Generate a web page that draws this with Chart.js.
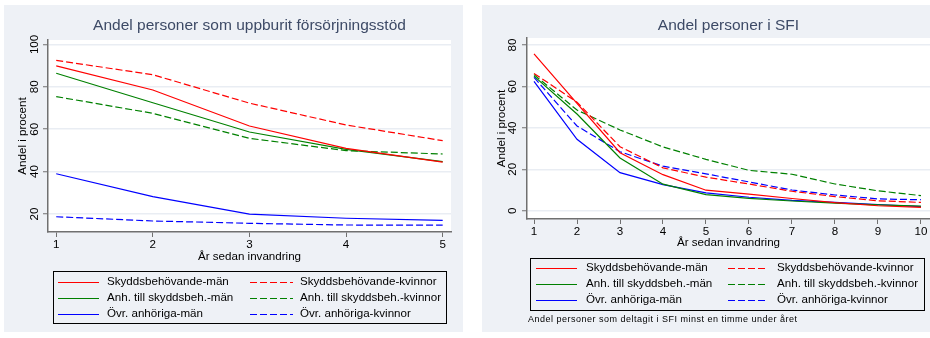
<!DOCTYPE html>
<html>
<head>
<meta charset="utf-8">
<script src="https://cdn.jsdelivr.net/npm/chart.js@4/dist/chart.umd.min.js"></script>
<style>
html,body{margin:0;padding:0;background:#fff;}
#wrap{position:relative;width:930px;height:338px;overflow:hidden;background:#fff;}
canvas{position:absolute;background:#eef1f6;}
#c1{left:4px;top:5px;}
#c2{left:482px;top:5px;}
</style>
</head>
<body>
<div id="wrap">
<canvas id="c1" width="459" height="327"></canvas>
<canvas id="c2" width="448" height="327"></canvas>
</div>
<script>
// ---------- data ----------
const fsYears = [1, 2, 3, 4, 5];
const fsSkyddMan = [89.9, 78.5, 61.5, 51.0, 44.5];
const fsSkyddKv  = [92.5, 85.7, 72.3, 62.0, 54.6];
const fsAnhMan   = [86.4, 72.5, 58.7, 50.5, 44.7];
const fsAnhKv    = [75.4, 67.5, 55.7, 49.9, 48.3];
const fsOvrMan   = [39.0, 28.2, 19.9, 18.0, 17.0];
const fsOvrKv    = [18.7, 16.7, 15.6, 14.8, 14.7];

const sfiYears = [1, 2, 3, 4, 5, 6, 7, 8, 9, 10];
const sfiSkyddMan = [75.7, 51.8, 28.0, 17.4, 9.9, 8.0, 5.9, 3.9, 2.4, 1.6];
const sfiSkyddKv  = [66.3, 52.4, 30.9, 20.7, 16.2, 12.9, 9.4, 6.8, 4.8, 4.0];
const sfiAnhMan   = [65.0, 46.7, 25.5, 12.8, 7.8, 6.0, 4.7, 3.7, 2.8, 2.2];
const sfiAnhKv    = [65.7, 48.6, 39.0, 30.8, 24.8, 19.5, 17.6, 12.9, 9.6, 7.3];
const sfiOvrMan   = [62.5, 34.5, 18.4, 12.6, 8.6, 6.5, 5.0, 4.0, 3.0, 2.0];
const sfiOvrKv    = [64.4, 40.9, 28.5, 21.5, 17.8, 13.9, 10.0, 7.6, 5.7, 5.3];

const seriesLabels = [
  'Skyddsbehövande-män', 'Skyddsbehövande-kvinnor',
  'Anh. till skyddsbeh.-män', 'Anh. till skyddsbeh.-kvinnor',
  'Övr. anhöriga-män', 'Övr. anhöriga-kvinnor'
];
const fsYTicks = [20, 40, 60, 80, 100];
const sfiYTicks = [0, 20, 40, 60, 80];

const title1 = 'Andel personer som uppburit försörjningsstöd';
const title2 = 'Andel personer i SFI';
const yTitle = 'Andel i procent';
const xTitle = 'År sedan invandring';
const note2 = 'Andel personer som deltagit i SFI minst en timme under året';

// ---------- styling ----------
const FONT = '"Liberation Sans", Arial, sans-serif';
const seriesColors = ['#ff0000', '#ff0000', '#008000', '#008000', '#0000ff', '#0000ff'];
const DASH = [7, 3];

function makeDatasets(xs, arrs) {
  return arrs.map((arr, i) => ({
    label: seriesLabels[i],
    data: xs.map((x, k) => ({x: x, y: arr[k]})),
    borderColor: seriesColors[i],
    borderWidth: 1.2,
    borderDash: i % 2 === 1 ? DASH : [],
    pointRadius: 0,
    tension: 0,
    fill: false
  }));
}

function decoPlugin(cfg) {
  return {
    id: 'deco',
    beforeDraw(chart) {
      const {ctx, chartArea: a} = chart;
      ctx.save();
      ctx.fillStyle = '#ffffff';
      ctx.fillRect(a.left, a.top, a.right - a.left, a.bottom - a.top);
      ctx.restore();
    },
    afterDraw(chart) {
      const {ctx, chartArea: a} = chart;
      const ys = chart.scales.y;
      const cx = (a.left + a.right) / 2;
      ctx.save();
      // title
      ctx.fillStyle = '#3d4a66';
      ctx.font = '15.5px ' + FONT;
      ctx.textAlign = 'center';
      ctx.textBaseline = 'middle';
      ctx.fillText(cfg.title, cx, cfg.titleY);
      // y tick labels (rotated)
      ctx.fillStyle = '#000';
      ctx.font = '11.6px ' + FONT;
      ys.ticks.forEach(t => {
        const py = ys.getPixelForValue(t.value);
        ctx.save();
        ctx.translate(cfg.yLabX, py);
        ctx.rotate(-Math.PI / 2);
        ctx.fillText(String(t.value), 0, 0);
        ctx.restore();
      });
      // y title
      ctx.save();
      ctx.translate(cfg.yTitleX, (a.top + a.bottom) / 2);
      ctx.rotate(-Math.PI / 2);
      ctx.fillText(yTitle, 0, 0);
      ctx.restore();
      // x title
      ctx.fillText(xTitle, cx, cfg.xTitleY);
      // legend
      const L = cfg.legend;
      ctx.strokeStyle = '#000';
      ctx.lineWidth = 1;
      ctx.strokeRect(L.x0 + 0.5, L.y0 + 0.5, L.x1 - L.x0, L.y1 - L.y0);
      ctx.textAlign = 'left';
      chart.data.datasets.forEach((ds, i) => {
        const col = i % 2, row = Math.floor(i / 2);
        const y = L.rows[row];
        const lx0 = L.cols[col][0], lx1 = L.cols[col][1], tx = L.cols[col][2];
        ctx.save();
        ctx.strokeStyle = ds.borderColor;
        ctx.lineWidth = 1.2;
        ctx.setLineDash(ds.borderDash || []);
        ctx.beginPath();
        ctx.moveTo(lx0, y + 0.5);
        ctx.lineTo(lx1, y + 0.5);
        ctx.stroke();
        ctx.restore();
        ctx.fillStyle = '#000';
        ctx.fillText(ds.label, tx, y);
      });
      if (cfg.note) {
        ctx.font = '9px ' + FONT;
        try { ctx.letterSpacing = '0.5px'; } catch (e) {}
        ctx.fillText(cfg.note, cfg.noteX, cfg.noteY);
      }
      ctx.restore();
    }
  };
}

function makeChart(id, xs, arrs, opt) {
  return new Chart(document.getElementById(id), {
    type: 'line',
    data: {datasets: makeDatasets(xs, arrs)},
    options: {
      responsive: false,
      animation: false,
      devicePixelRatio: 1,
      layout: {padding: {top: opt.padTop, right: opt.padRight, left: 0, bottom: 0}},
      plugins: {legend: {display: false}, title: {display: false}, tooltip: {enabled: false}},
      scales: {
        x: {
          type: 'linear',
          min: opt.xMin, max: opt.xMax,
          afterBuildTicks: s => { s.ticks = xs.map(v => ({value: v})); },
          afterFit: s => { s.height = opt.xHeight; },
          grid: {drawOnChartArea: false, drawTicks: true, tickLength: 5, tickColor: '#707070', tickWidth: 1},
          border: {display: true, color: '#707070', width: 1.5},
          ticks: {
            color: '#000', font: {family: FONT, size: 11.6}, padding: 1, maxRotation: 0, autoSkip: false,
            callback: v => String(v)
          }
        },
        y: {
          min: opt.yMin, max: opt.yMax,
          afterBuildTicks: s => { s.ticks = opt.yTicks.map(v => ({value: v})); },
          afterFit: s => { s.width = opt.yWidth; },
          grid: {color: '#e9edf3', lineWidth: 1.5, drawTicks: true, tickLength: 5, tickColor: '#707070', tickWidth: 1},
          border: {display: true, color: '#707070', width: 1.5},
          ticks: {display: false}
        }
      }
    },
    plugins: [decoPlugin(opt.deco)]
  });
}

// Left chart (canvas offset 4,5)
makeChart('c1', fsYears, [fsSkyddMan, fsSkyddKv, fsAnhMan, fsAnhKv, fsOvrMan, fsOvrKv], {
  padTop: 35, padRight: 12, yWidth: 44, xHeight: 100,
  xMin: 0.915, xMax: 5.086, yMin: 11.5, yMax: 102.1, yTicks: fsYTicks,
  deco: {
    title: title1, titleY: 21, yLabX: 31, yTitleX: 19, xTitleY: 252,
    legend: {x0: 49, y0: 266, x1: 442, y1: 318,
      rows: [277, 293, 309],
      cols: [[54, 95, 103], [246, 289, 296]]}
  }
});

// Right chart (canvas offset 482,5)
makeChart('c2', sfiYears, [sfiSkyddMan, sfiSkyddKv, sfiAnhMan, sfiAnhKv, sfiOvrMan, sfiOvrKv], {
  padTop: 33, padRight: 0, yWidth: 45, xHeight: 113,
  xMin: 0.837, xMax: 10.21, yMin: -4.0, yMax: 83.4, yTicks: sfiYTicks,
  deco: {
    title: title2, titleY: 21, yLabX: 31, yTitleX: 20, xTitleY: 238,
    legend: {x0: 48, y0: 253, x1: 442, y1: 305,
      rows: [263, 279, 295],
      cols: [[54, 95, 104], [246, 286, 295]]},
    note: note2, noteX: 46, noteY: 315
  }
});
</script>
</body>
</html>
